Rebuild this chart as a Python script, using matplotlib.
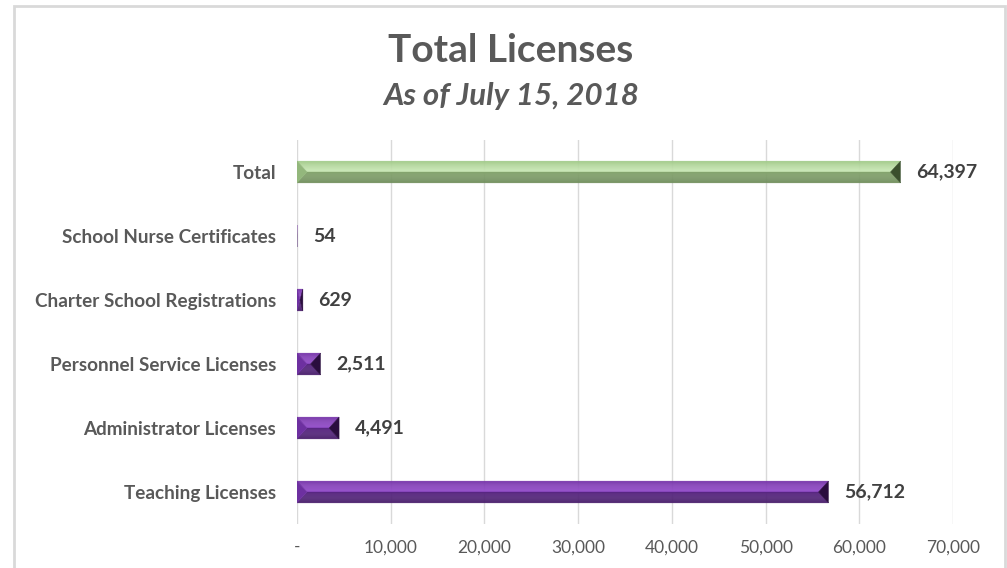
import matplotlib
matplotlib.use("Agg")
import matplotlib.pyplot as plt
from matplotlib.patches import Polygon, Rectangle
import numpy as np

# Licence counts as of July 15, 2018
categories = [
    "Teaching Licenses",
    "Administrator Licenses",
    "Personnel Service Licenses",
    "Charter School Registrations",
    "School Nurse Certificates",
    "Total",
]
counts = [56712, 4491, 2511, 629, 54, 64397]
x_ticks = [0, 10000, 20000, 30000, 40000, 50000, 60000, 70000]
x_tick_labels = ["-", "10,000", "20,000", "30,000", "40,000", "50,000", "60,000", "70,000"]

plt.rcParams["font.family"] = ["Lato", "DejaVu Sans"]

W, H, DPI = 1007, 568, 100
fig = plt.figure(figsize=(W / DPI, H / DPI), dpi=DPI)
fig.patch.set_facecolor("white")

# light chart-area frame
fig.patches.append(Rectangle((14 / W, -0.05), (1005 - 14) / W, 1.05 - 6 / H,
                             transform=fig.transFigure, fill=False,
                             edgecolor="#d9d9d9", linewidth=2))

ax = fig.add_axes([297 / W, 1 - 524 / H, (953 - 297) / W, (524 - 140) / H])
ax.set_xlim(0, 70000)
ax.set_ylim(-0.5, len(categories) - 0.5)

# bevel palettes: (top edge, highlight, lower mid, bottom edge, left end, right end)
purple = ("#7534a8", "#9650cc", "#5a2884", "#4a1f6c", "#6d30a0", "#2a0d3e")
green = ("#a0c987", "#cdeab9", "#86a670", "#718f5d", "#93b77c", "#3a4f2d")


def blend(c1, c2, t):
    a = np.array(matplotlib.colors.to_rgb(c1))
    b = np.array(matplotlib.colors.to_rgb(c2))
    return tuple(a + (b - a) * t)


bar_h = 0.34
bars = ax.barh(range(len(categories)), counts, height=bar_h, color="none",
               edgecolor="none", zorder=3)

px_per_unit = (953 - 297) / 70000.0
bevel_px = 10

for i, (rect, val) in enumerate(zip(bars, counts)):
    pal = green if categories[i] == "Total" else purple
    x0, y0 = rect.get_x(), rect.get_y()
    w, h = rect.get_width(), rect.get_height()
    x1, y1 = x0 + w, y0 + h
    ym = y0 + h / 2
    bx = min(bevel_px / px_per_unit, w / 2)
    elw = 0.3 if w * px_per_unit > 2 else 0.0
    n = 10
    # top face: stripes from top edge down to the midline
    for k in range(n):
        t0, t1 = k / n, (k + 1) / n
        ya, yb = y1 - t0 * h / 2, y1 - t1 * h / 2
        ia, ib = t0 * bx, t1 * bx
        c = blend(pal[0], pal[1], (k + 0.5) / n)
        ax.add_patch(Polygon([(x0 + ia, ya), (x1 - ia, ya), (x1 - ib, yb), (x0 + ib, yb)],
                             closed=True, facecolor=c, edgecolor=c, lw=elw, zorder=4))
    # bottom face: stripes from midline down to bottom edge
    for k in range(n):
        t0, t1 = k / n, (k + 1) / n
        ya, yb = ym - t0 * h / 2, ym - t1 * h / 2
        ia, ib = (1 - t0) * bx, (1 - t1) * bx
        c = blend(pal[2], pal[3], (k + 0.5) / n)
        ax.add_patch(Polygon([(x0 + ia, ya), (x1 - ia, ya), (x1 - ib, yb), (x0 + ib, yb)],
                             closed=True, facecolor=c, edgecolor=c, lw=elw, zorder=4))
    # end faces
    ax.add_patch(Polygon([(x0, y1), (x0 + bx, ym), (x0, y0)], closed=True,
                         facecolor=pal[4], edgecolor=pal[4], lw=elw, zorder=5))
    ax.add_patch(Polygon([(x1, y1), (x1 - bx, ym), (x1, y0)], closed=True,
                         facecolor=pal[5], edgecolor=pal[5], lw=elw, zorder=5))
    ax.annotate(f"{val:,}", xy=(x1, ym), xytext=(11, 0), textcoords="offset points",
                ha="left", va="center", fontsize=14, fontweight="bold",
                color="#404040", zorder=6)

ax.set_yticks(range(len(categories)))
ax.set_yticklabels(categories, fontsize=13.6, fontweight="bold", color="#595959")
ax.set_xticks(x_ticks)
ax.set_xticklabels(x_tick_labels, fontsize=12.5, color="#595959")
ax.tick_params(axis="y", length=0, pad=15)
ax.tick_params(axis="x", length=0, pad=11)
ax.grid(axis="x", color="#d9d9d9", linewidth=1, zorder=0)
ax.set_axisbelow(True)
for s in ax.spines.values():
    s.set_visible(False)

fig.text(511 / W, 1 - 50 / H, "Total Licenses", ha="center", va="center",
         fontsize=28, fontweight="bold", color="#595959")
fig.text(511 / W, 1 - 96 / H, "As of July 15, 2018", ha="center", va="center",
         fontsize=22.5, fontweight="bold", fontstyle="italic", color="#595959")

fig.savefig("out.png", dpi=DPI, facecolor="white")
